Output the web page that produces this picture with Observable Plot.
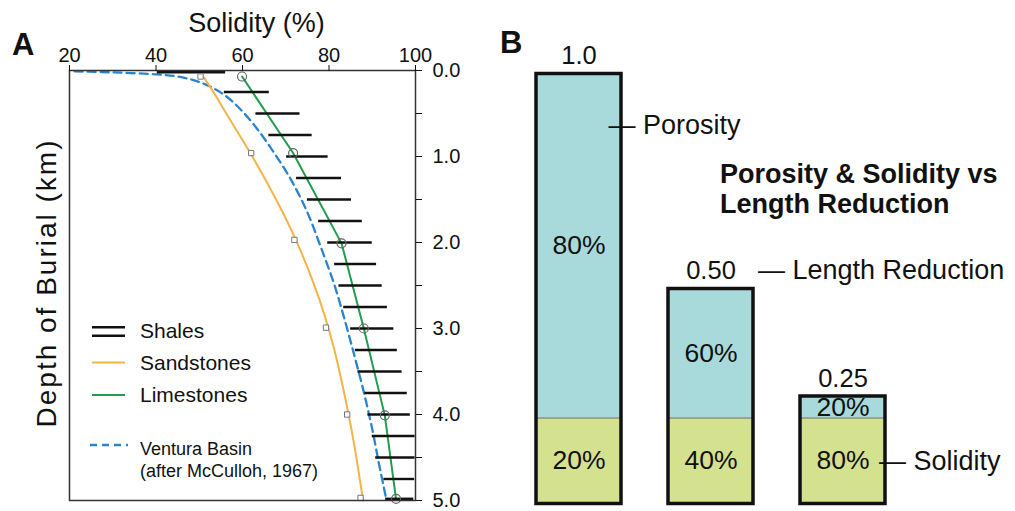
<!DOCTYPE html>
<html><head><meta charset="utf-8">
<script src="https://cdn.jsdelivr.net/npm/d3@7"></script>
<script src="https://cdn.jsdelivr.net/npm/@observablehq/plot@0.6"></script>
<style>
body{margin:0;background:#fff;}
#wrap{position:relative;width:1015px;height:511px;overflow:hidden;font-family:"Liberation Sans",Arial,Helvetica,sans-serif;background:#fff;}
#wrap > svg{position:absolute;}
</style></head><body><div id="wrap"></div>
<script>
// ---------- Panel A data ----------
const solidityTicks = [20, 40, 60, 80, 100];
const depthTicks = [0, 0.5, 1, 1.5, 2, 2.5, 3, 3.5, 4, 4.5, 5];
const depthTickLabels = ["0.0", "", "1.0", "", "2.0", "", "3.0", "", "4.0", "", "5.0"];

const shaleDepth = [0.02, 0.25, 0.5, 0.75, 1.0, 1.25, 1.5, 1.75, 2.0, 2.25, 2.5, 2.75, 3.0, 3.25, 3.5, 3.75, 4.0, 4.25, 4.5, 4.75, 4.98];
const shaleMin   = [40.3, 55.8, 63.1, 66.1, 70.2, 72.5, 75.0, 77.6, 79.7, 81.3, 82.3, 83.4, 85.0, 86.1, 86.7, 88.3, 89.0, 90.0, 90.8, 92.7, 93.1];
const shaleMax   = [56.1, 66.2, 73.3, 76.1, 79.8, 82.9, 85.2, 87.7, 90.0, 91.0, 92.3, 93.5, 95.0, 95.8, 96.9, 98.1, 98.8, 99.9, 99.9, 99.8, 99.6];

const sandLineDepth    = [0.08, 0.26, 0.53, 0.80, 1.03, 1.38, 1.73, 2.08, 2.47, 2.85, 3.24, 3.63, 4.02, 4.40, 4.75, 5.0];
const sandLineSolidity = [51.05, 53.4, 56.6, 59.9, 62.6, 66.5, 70.1, 73.3, 76.4, 79.0, 81.2, 83.0, 84.6, 86.0, 87.1, 87.9];
const sandSampleDepth    = [0.07, 0.96, 1.97, 2.99, 4.0, 4.97];
const sandSampleSolidity = [50.3, 62.0, 72.0, 79.3, 84.2, 87.3];

const limeDepth    = [0.07, 0.96, 2.01, 3.0, 4.01, 4.98];
const limeSolidity = [59.9, 71.7, 82.9, 88.05, 92.9, 95.5];

const venturaDepth    = [0.01, 0.022, 0.045, 0.07, 0.11, 0.17, 0.28, 0.45, 0.68, 0.95, 1.26, 1.65, 2.04, 2.47, 2.93, 3.36, 3.74, 4.17, 4.56, 4.95];
const venturaSolidity = [21.2, 30.0, 40.0, 45.0, 48.5, 51.8, 55.7, 59.5, 63.4, 67.2, 71.1, 75.0, 78.0, 81.1, 83.8, 86.1, 88.05, 90.0, 91.5, 93.1];

// ---------- Panel B data ----------
const lengthLabels = ["1.0", "0.50", "0.25"];
const lengthValues = [1.0, 0.5, 0.25];
const porosityPct  = [80, 60, 20];
const solidityPct  = [20, 40, 80];

// ---------- styles ----------
const FONT = '"Liberation Sans", Arial, Helvetica, sans-serif';
const INK = "#111";
const ORANGE = "#f4b447", GREEN = "#1f9e4f", BLUE = "#2b84cf";
const POR_FILL = "#a9dadb", SOL_FILL = "#d4e18e";

const zip = (a, b, ka, kb) => a.map((v, i) => ({[ka]: v, [kb]: b[i]}));
const shales = shaleDepth.map((d, i) => ({depth: d, min: shaleMin[i], max: shaleMax[i]}));
const sandLine = zip(sandLineDepth, sandLineSolidity, "d", "s");
const sandSamples = zip(sandSampleDepth, sandSampleSolidity, "d", "s");
const lime = zip(limeDepth, limeSolidity, "d", "s");
const ventura = zip(venturaDepth, venturaSolidity, "d", "s");

const wrap = document.getElementById("wrap");

const plotA = Plot.plot({
  width: 480, height: 511,
  marginLeft: 69, marginRight: 65, marginTop: 70, marginBottom: 11,
  style: {fontFamily: FONT, background: "transparent", color: INK, overflow: "visible"},
  x: {domain: [20, 100]},
  y: {domain: [0, 5], reverse: true},
  marks: [
    Plot.line(ventura, {x: "s", y: "d", stroke: BLUE, strokeWidth: 2.3, strokeDasharray: "8,5", curve: "catmull-rom"}),
    Plot.line(sandLine, {x: "s", y: "d", stroke: ORANGE, strokeWidth: 2, curve: "catmull-rom"}),
    Plot.line(lime, {x: "s", y: "d", stroke: GREEN, strokeWidth: 2}),
    Plot.ruleY(shales, {y: "depth", x1: "min", x2: "max", stroke: INK, strokeWidth: 2.4}),
    Plot.dot(sandSamples, {x: "s", y: "d", symbol: "square", r: 3, stroke: "#777", fill: "white", strokeWidth: 1}),
    Plot.dot(lime, {x: "s", y: "d", r: 4.5, stroke: "#666", fill: "none", strokeWidth: 1.2}),
    Plot.frame({stroke: "#333", strokeWidth: 1.5}),
    Plot.axisX({anchor: "top", ticks: solidityTicks, tickSize: 6, tickPadding: 3, fontSize: 20, label: null}),
    Plot.axisY({anchor: "right", ticks: depthTicks, tickFormat: d => depthTickLabels[depthTicks.indexOf(d)], tickSize: 6, tickPadding: 11, fontSize: 20, label: null}),
    Plot.text(["Solidity (%)"], {frameAnchor: "top", textAnchor: "middle", dx: 14, dy: -39, lineAnchor: "bottom", fontSize: 27})
  ]
});
plotA.style.left = "0px"; plotA.style.top = "0px";
wrap.appendChild(plotA);

const bars = lengthLabels.map((l, i) => ({
  label: l, length: lengthValues[i], por: porosityPct[i], sol: solidityPct[i],
  solidTop: lengthValues[i] * solidityPct[i] / 100
}));

const plotB = Plot.plot({
  width: 525, height: 511,
  marginLeft: 45, marginRight: 130, marginTop: 73.5, marginBottom: 7.5,
  style: {fontFamily: FONT, background: "transparent", color: INK, overflow: "visible"},
  x: {domain: lengthLabels, paddingInner: 0.358, paddingOuter: 0, axis: null},
  y: {domain: [0, 1], axis: null},
  marks: [
    Plot.barY(bars, {x: "label", y1: 0, y2: "solidTop", fill: SOL_FILL, inset: 0}),
    Plot.barY(bars, {x: "label", y1: "solidTop", y2: "length", fill: POR_FILL, inset: 0}),
    Plot.tickY(bars, {x: "label", y: "solidTop", stroke: "#666", strokeWidth: 1}),
    Plot.barY(bars, {x: "label", y1: 0, y2: "length", fill: "none", stroke: INK, strokeWidth: 3.5, inset: 0}),
    Plot.text(bars, {x: "label", y: "length", text: "label", dy: -18, fontSize: 25.5, fill: INK}),
    Plot.text(bars, {x: "label", y: d => (d.solidTop + d.length) / 2, text: d => d.por + "%", fontSize: 26.5, fill: INK}),
    Plot.text(bars, {x: "label", y: d => d.solidTop / 2, text: d => d.sol + "%", fontSize: 26.5, fill: INK}),
    Plot.text(bars.filter(d => d.label === "1.0"), {x: "label", y: "length", text: () => "\u2014 Porosity", textAnchor: "start", dx: 29.5, dy: 51, fontSize: 27, fill: INK}),
    Plot.text(bars.filter(d => d.label === "0.50"), {x: "label", y: "length", text: () => "\u2014 Length Reduction", textAnchor: "start", dx: 47, dy: -19, fontSize: 27, fill: INK}),
    Plot.text(bars.filter(d => d.label === "0.25"), {x: "label", y: d => d.solidTop / 2, text: () => "\u2014 Solidity", textAnchor: "start", dx: 36, fontSize: 27, fill: INK})
  ]
});
plotB.style.left = "490px"; plotB.style.top = "0px";
wrap.appendChild(plotB);

// ---------- overlay: panel letters, axis title, chart title, legend ----------
const NS = "http://www.w3.org/2000/svg";
const ov = document.createElementNS(NS, "svg");
ov.setAttribute("width", 1015); ov.setAttribute("height", 511);
ov.style.left = "0px"; ov.style.top = "0px"; ov.style.fontFamily = FONT;
function el(tag, attrs, txt) {
  const e = document.createElementNS(NS, tag);
  for (const k in attrs) e.setAttribute(k, attrs[k]);
  if (txt != null) e.textContent = txt;
  ov.appendChild(e); return e;
}
el("text", {x: 12, y: 55, "font-size": 31, "font-weight": "bold", fill: INK}, "A");
el("text", {x: 500, y: 53, "font-size": 31, "font-weight": "bold", fill: INK}, "B");
el("text", {x: 720, y: 183, "font-size": 27, "font-weight": "bold", fill: INK}, "Porosity & Solidity vs");
el("text", {x: 720, y: 213, "font-size": 27, "font-weight": "bold", fill: INK}, "Length Reduction");
el("text", {x: 0, y: 0, transform: "translate(56,283) rotate(-90)", "text-anchor": "middle", "font-size": 28, "letter-spacing": "2px", fill: INK}, "Depth of Burial (km)");

el("line", {x1: 92, x2: 125, y1: 327.3, y2: 327.3, stroke: INK, "stroke-width": 2.4});
el("line", {x1: 92, x2: 125, y1: 335.7, y2: 335.7, stroke: INK, "stroke-width": 2.4});
el("text", {x: 140, y: 337.5, "font-size": 21, fill: INK}, "Shales");
el("line", {x1: 92, x2: 125, y1: 362.5, y2: 362.5, stroke: ORANGE, "stroke-width": 2});
el("text", {x: 140, y: 369.5, "font-size": 21, fill: INK}, "Sandstones");
el("line", {x1: 92, x2: 125, y1: 395, y2: 395, stroke: GREEN, "stroke-width": 2});
el("text", {x: 140, y: 401.7, "font-size": 21, fill: INK}, "Limestones");
el("line", {x1: 90, x2: 128, y1: 445, y2: 445, stroke: BLUE, "stroke-width": 2.3, "stroke-dasharray": "7,5"});
el("text", {x: 140, y: 455, "font-size": 18, fill: INK}, "Ventura Basin");
el("text", {x: 140, y: 476.7, "font-size": 18, fill: INK}, "(after McCulloh, 1967)");
wrap.appendChild(ov);
</script>
</body></html>
